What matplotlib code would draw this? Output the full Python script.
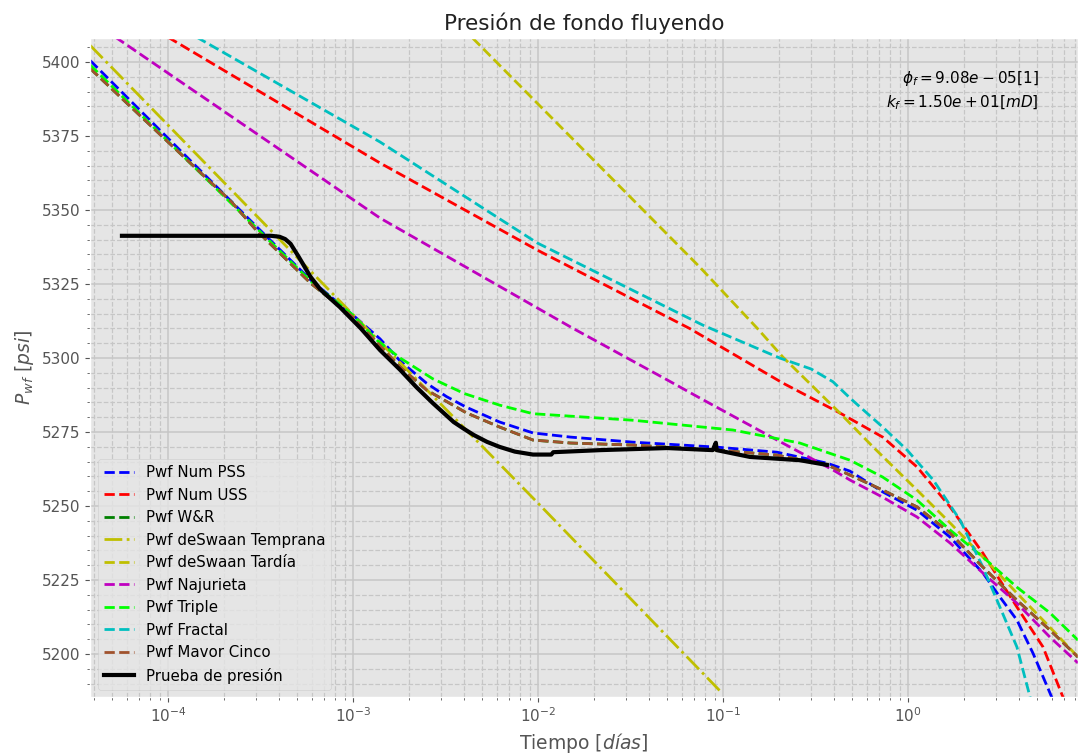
import matplotlib
matplotlib.use("Agg")
import matplotlib.pyplot as plt
from matplotlib.ticker import AutoMinorLocator, MultipleLocator

plt.style.use('ggplot')

# --- data (tiempo [dias], Pwf [psi]) ---
pss_t = [3.8e-5, 3.0e-4, 5.9e-4, 1.0e-3, 1.4e-3, 1.8e-3, 2.5e-3, 3.2e-3, 4.1e-3, 6.2e-3, 9.4e-3, 0.015, 0.0325,
         0.093, 0.196, 0.365, 0.486, 0.73, 1.12, 1.69, 2.54, 3.14, 3.88, 4.74, 5.86, 6.3]
pss_p = [5400.5, 5344.5, 5326.4, 5314.5, 5306.5, 5299.0, 5291.5, 5287.0, 5283.4, 5278.4, 5274.7, 5273.3, 5271.6,
         5269.9, 5268.2, 5264.5, 5261.8, 5254.8, 5248.6, 5239.5, 5227.4, 5219.3, 5211.5, 5200.3, 5186.8, 5182.0]

uss_t = [1.0e-4, 1.4e-3, 9.9e-3, 0.066, 0.21, 0.43, 0.73, 1.12, 1.69, 2.54, 3.88, 5.37, 6.88, 7.3]
uss_p = [5408.4, 5365.9, 5336.5, 5310.0, 5291.6, 5281.4, 5273.3, 5263.2, 5249.7, 5234.1, 5215.9, 5202.4, 5185.5, 5182.0]

mavor_t = [3.8e-5, 2.2e-4, 3.0e-4, 5.9e-4, 1.0e-3, 1.8e-3, 2.5e-3, 4.1e-3, 6.2e-3, 9.4e-3, 0.015, 0.0325,
           0.093, 0.196, 0.365, 0.486, 0.73, 1.12, 1.69, 2.54, 3.88, 5.86, 8.3]
mavor_p = [5397.8, 5352.8, 5343.2, 5325.3, 5313.9, 5297.0, 5289.2, 5281.5, 5276.7, 5272.3, 5271.3, 5270.6,
           5268.9, 5267.2, 5263.9, 5260.5, 5255.4, 5249.7, 5240.9, 5229.4, 5218.2, 5208.1, 5199.0]

# W&R is hidden under the Mavor Cinco curve in the reference
wr_t = mavor_t
wr_p = mavor_p

swaan_early_t = [3.8e-5, 1.0e-3, 1.0e-2, 0.099]
swaan_early_p = [5405.6, 5314.7, 5251.0, 5186.8]

swaan_late_t = [4.45e-3, 0.075, 0.153, 0.211, 0.429, 0.647, 1.12, 1.69, 2.54, 3.88, 5.86, 8.3]
swaan_late_p = [5408.0, 5330.7, 5310.1, 5300.3, 5281.4, 5270.0, 5255.4, 5244.3, 5232.8, 5220.6, 5209.0, 5199.0]

naju_t = [5.2e-5, 1.4e-3, 0.0154, 0.05, 0.075, 0.196, 0.393, 0.486, 0.73, 1.12, 1.69, 2.54, 3.88, 5.86, 8.3]
naju_p = [5408.4, 5347.3, 5310.1, 5292.6, 5286.5, 5272.3, 5262.2, 5258.8, 5253.0, 5246.3, 5237.5, 5227.4, 5217.2, 5205.7, 5197.0]

triple_t = [3.8e-5, 3.0e-4, 5.9e-4, 1.0e-3, 1.35e-3, 1.8e-3, 2.7e-3, 4.0e-3, 6.2e-3, 9.4e-3, 0.0325,
            0.113, 0.26, 0.486, 0.73, 1.12, 1.69, 2.54, 3.88, 5.86, 8.3]
triple_p = [5399.0, 5344.0, 5326.0, 5314.5, 5306.0, 5300.0, 5293.0, 5288.0, 5284.1, 5281.2, 5279.0,
            5275.7, 5271.3, 5265.5, 5259.8, 5252.0, 5241.9, 5232.8, 5222.6, 5213.9, 5204.7]

fractal_t = [1.43e-4, 1.4e-3, 9.9e-3, 0.078, 0.203, 0.3, 0.393, 0.486, 0.6, 0.73, 0.99, 1.37, 1.91, 2.54,
             3.14, 3.88, 4.57, 4.8]
fractal_p = [5408.4, 5373.0, 5338.9, 5311.1, 5300.0, 5296.3, 5292.0, 5286.5, 5281.4, 5276.7, 5268.9, 5258.8,
             5245.3, 5229.4, 5215.9, 5202.4, 5185.5, 5181.0]

test_t = [5.64e-5, 3.6e-4, 4.0e-4, 4.3e-4, 4.6e-4, 5.1e-4, 5.9e-4, 6.7e-4, 8.5e-4, 1.1e-3, 1.4e-3, 1.8e-3,
          2.2e-3, 2.7e-3, 3.5e-3, 4.0e-3, 4.5e-3, 5.3e-3, 6.2e-3, 7.5e-3, 9.4e-3, 0.0118, 0.0121, 0.0217,
          0.05, 0.088, 0.0915, 0.0925, 0.14, 0.26, 0.365]
test_p = [5341.3, 5341.3, 5341.0, 5340.2, 5338.6, 5334.1, 5327.4, 5323.0, 5317.2, 5310.1, 5302.7, 5296.0,
          5290.2, 5284.8, 5278.4, 5276.0, 5274.0, 5271.7, 5270.0, 5268.4, 5267.4, 5267.4, 5268.2, 5268.9,
          5269.6, 5268.9, 5271.4, 5268.9, 5266.6, 5265.5, 5263.9]

phi_f = 9.08e-05
k_f = 1.50e+01

fig, ax = plt.subplots(figsize=(10.78, 7.55), dpi=100)
ax.set_position([0.0835, 0.0768, 0.9165, 0.8728])

lw = 2
ax.plot(pss_t, pss_p, 'b--', lw=lw, label='Pwf Num PSS')
ax.plot(uss_t, uss_p, 'r--', lw=lw, label='Pwf Num USS')
ax.plot(wr_t, wr_p, 'g--', lw=lw, label='Pwf W&R')
ax.plot(swaan_early_t, swaan_early_p, 'y-.', lw=lw, label='Pwf deSwaan Temprana')
ax.plot(swaan_late_t, swaan_late_p, 'y--', lw=lw, label='Pwf deSwaan Tardía')
ax.plot(naju_t, naju_p, 'm--', lw=lw, label='Pwf Najurieta')
ax.plot(triple_t, triple_p, '--', color='lime', lw=lw, label='Pwf Triple')
ax.plot(fractal_t, fractal_p, 'c--', lw=lw, label='Pwf Fractal')
ax.plot(mavor_t, mavor_p, '--', color='sienna', lw=lw, label='Pwf Mavor Cinco')
ax.plot(test_t, test_p, 'k-', lw=3, label='Prueba de presión')

ax.set_xscale('log')
ax.set_xlim(3.79e-5, 8.3)
ax.set_ylim(5185.5, 5408.1)
ax.yaxis.set_major_locator(MultipleLocator(25))
ax.yaxis.set_minor_locator(AutoMinorLocator(5))

ax.grid(which='major', color='#c6c6c6', linestyle='-', linewidth=1.1)
ax.grid(which='minor', color='#c6c6c6', linestyle='--', linewidth=0.9)
ax.tick_params(axis='both', which='major', labelsize=11)

ax.set_title('Presión de fondo fluyendo', fontsize=15.5, color='#222222')
ax.set_xlabel('Tiempo [$días$]', fontsize=13.5)
ax.set_ylabel('$P_{wf}$ $[psi]$', fontsize=13.5)

ax.text(0.96, 0.953, '$\\phi_f = %.2e [1]$\n$k_f = %.2e [mD]$' % (phi_f, k_f),
        transform=ax.transAxes, ha='right', va='top', fontsize=11, linespacing=1.4)

ax.legend(loc='lower left', fontsize=10.8)

plt.savefig('out.png', dpi=100)
